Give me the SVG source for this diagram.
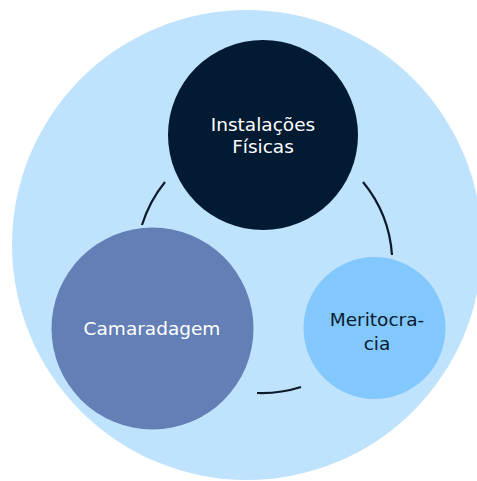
<svg xmlns="http://www.w3.org/2000/svg" width="477" height="481" viewBox="0 0 477 481">
<style>
text{font-family:"DejaVu Sans","Liberation Sans",sans-serif;font-size:18.5px;text-anchor:middle}
.lt{fill:#ffffff}
.dk{fill:#0b1b2e}
.arc{fill:none;stroke:#0d1a2b;stroke-width:2.2;stroke-linecap:butt}
</style>
<rect width="477" height="481" fill="#ffffff"/>
<circle cx="247" cy="245" r="235" fill="#bfe3fd"/>
<g id="connectors">
<path class="arc" d="M165,182 A129,129 0 0 0 142,225"/>
<path class="arc" d="M363,182 A129,129 0 0 1 392,255"/>
<path class="arc" d="M301,387 A129,129 0 0 1 257,393"/>
</g>
<g id="instalacoes">
<circle cx="263" cy="135" r="95" fill="#021b33"/>
<text class="lt" x="263" y="131">Instalações</text>
<text class="lt" x="263" y="152.5">Físicas</text>
</g>
<g id="camaradagem">
<circle cx="152.5" cy="328.5" r="101" fill="#637fb5"/>
<text class="lt" x="152" y="335">Camaradagem</text>
</g>
<g id="meritocracia">
<circle cx="374.5" cy="328" r="71" fill="#82c8fd"/>
<text class="dk" x="377" y="326">Meritocra-</text>
<text class="dk" x="377" y="350">cia</text>
</g>
</svg>
